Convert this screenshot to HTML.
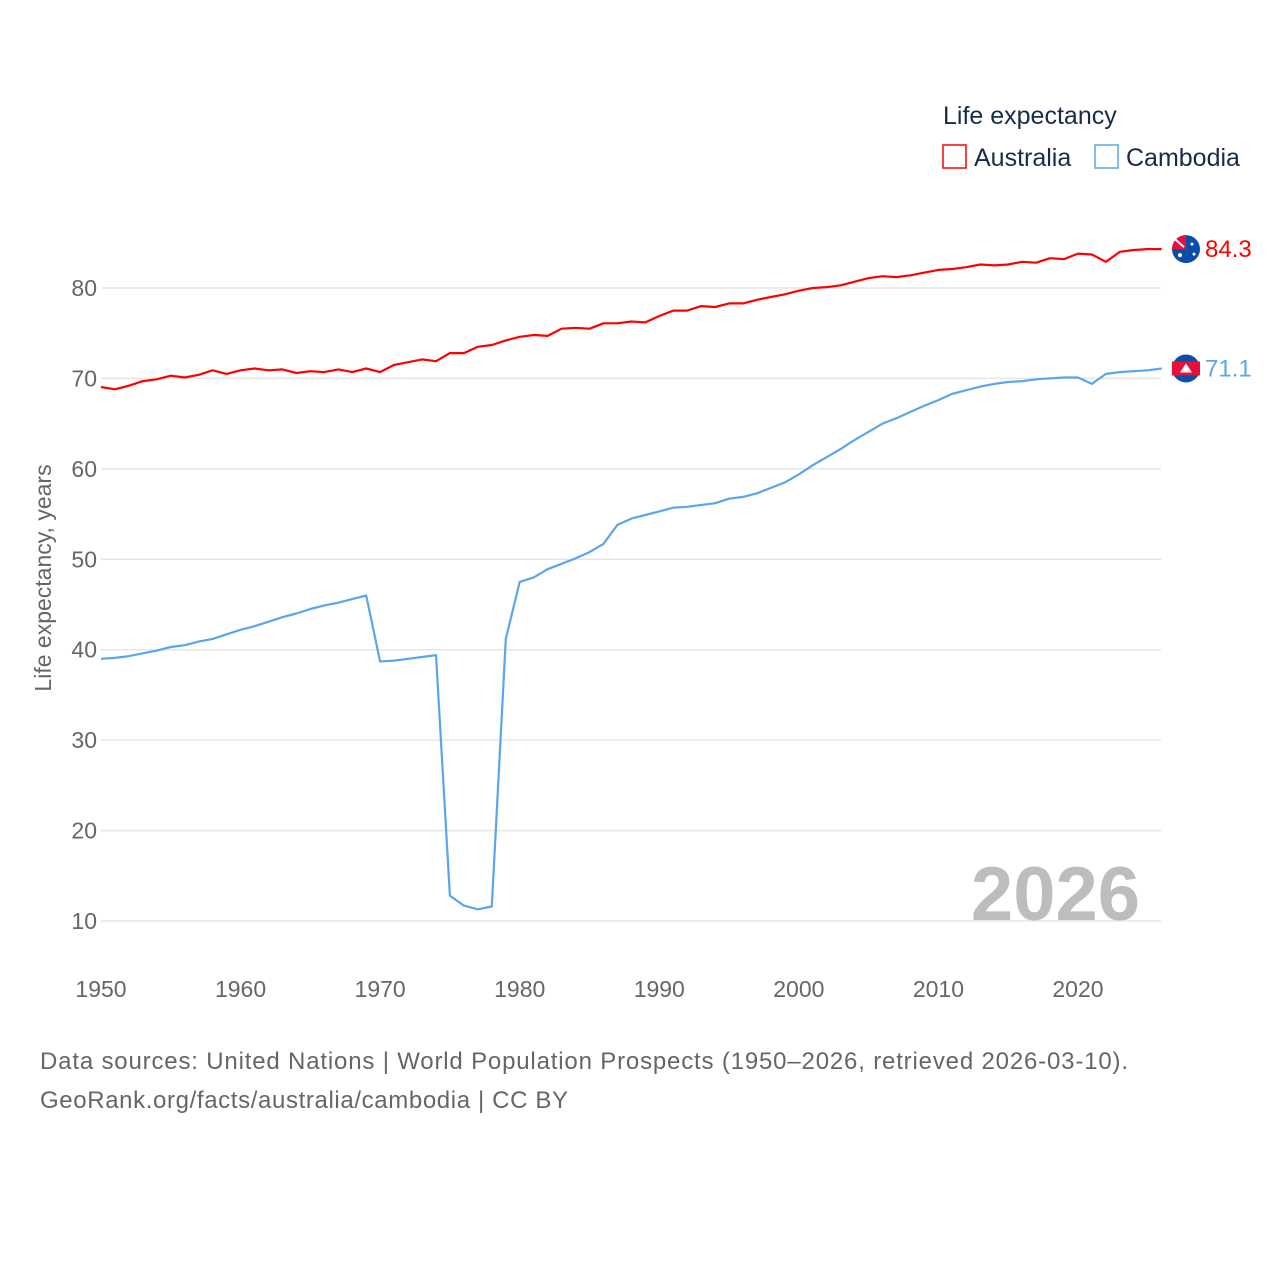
<!DOCTYPE html>
<html><head><meta charset="utf-8"><style>
html,body{margin:0;padding:0;background:#fff;}
svg text{font-family:"Liberation Sans",sans-serif;}
</style></head><body>
<svg width="1280" height="1280" viewBox="0 0 1280 1280" xmlns="http://www.w3.org/2000/svg">
<g id="grid"></g>
<g id="yticks"></g>
<g id="xticks"></g>
<text transform="translate(51,578) rotate(-90)" text-anchor="middle" font-size="23" fill="#666">Life expectancy, years</text>
<text x="1140" y="920" text-anchor="end" font-size="76" font-weight="bold" fill="#bdbdbd">2026</text>
<g id="series"></g>
<g>
<text x="943" y="124" font-size="25" fill="#1a2a4a">Life expectancy</text>
<g><rect x="943" y="145" width="23" height="23" fill="none" stroke="#ff0000" stroke-width="1.5"/><text x="974" y="166" font-size="25" fill="#1a2a4a">Australia</text></g>
<g><rect x="1095" y="145" width="23" height="23" fill="none" stroke="#5aa5ec" stroke-width="1.5"/><text x="1126" y="166" font-size="25" fill="#1a2a4a">Cambodia</text></g>
</g>
<g id="endmarks"></g>
<text x="40" y="1069" font-size="24" fill="#666" textLength="1088">Data sources: United Nations | World Population Prospects (1950–2026, retrieved 2026-03-10).</text>
<text x="40" y="1108" font-size="24" fill="#666" textLength="528">GeoRank.org/facts/australia/cambodia | CC BY</text>
</svg>
<script>
const years = [];for(let y=1950;y<=2026;y++)years.push(y);
const australia = [69.05,68.8,69.2,69.7,69.9,70.3,70.1,70.4,70.9,70.5,70.9,71.1,70.9,71.0,70.6,70.8,70.7,71.0,70.7,71.1,70.7,71.5,71.8,72.1,71.9,72.8,72.8,73.5,73.7,74.2,74.6,74.8,74.7,75.5,75.6,75.5,76.1,76.1,76.3,76.2,76.9,77.5,77.5,78.0,77.9,78.3,78.3,78.7,79.0,79.3,79.7,80.0,80.1,80.3,80.7,81.1,81.3,81.2,81.4,81.7,82.0,82.1,82.3,82.6,82.5,82.6,82.9,82.8,83.3,83.2,83.8,83.7,82.9,84.0,84.2,84.3,84.3];
const cambodia = [39.0,39.1,39.3,39.6,39.9,40.3,40.5,40.9,41.2,41.7,42.2,42.6,43.1,43.6,44.0,44.5,44.9,45.2,45.6,46.0,38.7,38.8,39.0,39.2,39.4,12.8,11.7,11.3,11.6,41.2,47.5,48.0,48.9,49.5,50.1,50.8,51.7,53.8,54.5,54.9,55.3,55.7,55.8,56.0,56.2,56.7,56.9,57.3,57.9,58.5,59.4,60.4,61.3,62.2,63.2,64.1,65.0,65.6,66.3,67.0,67.6,68.3,68.7,69.1,69.4,69.6,69.7,69.9,70.0,70.1,70.1,69.4,70.5,70.7,70.8,70.9,71.1];
const yTicks = [10,20,30,40,50,60,70,80];
const xTicks = [1950,1960,1970,1980,1990,2000,2010,2020];
const X = y => 101 + (y-1950)*13.957;
const Y = v => 288 + (80-v)*9.043;
const NS='http://www.w3.org/2000/svg';
function mk(tag,attrs,parent){const e=document.createElementNS(NS,tag);for(const k in attrs)e.setAttribute(k,attrs[k]);parent.appendChild(e);return e;}
const grid=document.getElementById('grid'),yt=document.getElementById('yticks'),xt=document.getElementById('xticks');
yTicks.forEach(v=>{
 const l=mk('line',{x1:101,x2:1161,y1:Y(v),y2:Y(v),stroke:'#e6e6e6','stroke-width':1.5},grid);
 
 
 const t=mk('text',{x:97,y:Y(v)+8,'text-anchor':'end','font-size':23,fill:'#666'},yt);
 t.textContent=v;
 
 
});
xTicks.forEach(v=>{
 const t=mk('text',{x:X(v),y:997,'text-anchor':'middle','font-size':23,fill:'#666'},xt);
 t.textContent=v;
 
 
});
const ser=document.getElementById('series');
function line(vals,color,name){
 const d=vals.map((v,i)=>(i?'L':'M')+X(years[i]).toFixed(1)+','+Y(v).toFixed(1)).join('');
 const p=mk('path',{d:d,fill:'none',stroke:color,'stroke-width':2.2,'stroke-linejoin':'round'},ser);
 
 
}
line(australia,'#ff0000','australia-line');
line(cambodia,'#5aa5ec','cambodia-line');
const em=document.getElementById('endmarks');
const aLast=australia[australia.length-1],cLast=cambodia[cambodia.length-1];
const ga=mk('g',{},em);


mk('circle',{cx:1186,cy:Y(aLast),r:14,fill:'#0a4ea8'},ga);
mk('path',{d:`M1172,${Y(aLast)} A14,14 0 0 1 1186,${Y(aLast)-14} L1186,${Y(aLast)} Z`,fill:'#e8103a'},ga);
mk('path',{d:`M1175,${Y(aLast)-10} L1184,${Y(aLast)-2}`,stroke:'#fff','stroke-width':2},ga);
mk('circle',{cx:1192,cy:Y(aLast)-5,r:1.5,fill:'#fff'},ga);
mk('circle',{cx:1194,cy:Y(aLast)+5,r:1.5,fill:'#fff'},ga);
mk('circle',{cx:1180,cy:Y(aLast)+6,r:2,fill:'#fff'},ga);
const ta=mk('text',{x:1205,y:Y(aLast)+8,'font-size':24,fill:'#ff0000'},em);
ta.textContent=aLast.toFixed(1);


const gc=mk('g',{},em);


mk('circle',{cx:1186,cy:Y(cLast),r:14,fill:'#0a4ea8'},gc);
mk('rect',{x:1172,y:Y(cLast)-7,width:28,height:14,fill:'#e8103a'},gc);
mk('path',{d:`M1180,${Y(cLast)+4} L1186,${Y(cLast)-5} L1192,${Y(cLast)+4} Z`,fill:'#fff'},gc);
const tc=mk('text',{x:1205,y:Y(cLast)+8,'font-size':24,fill:'#5aa5ec'},em);
tc.textContent=cLast.toFixed(1);


</script>
</body></html>
